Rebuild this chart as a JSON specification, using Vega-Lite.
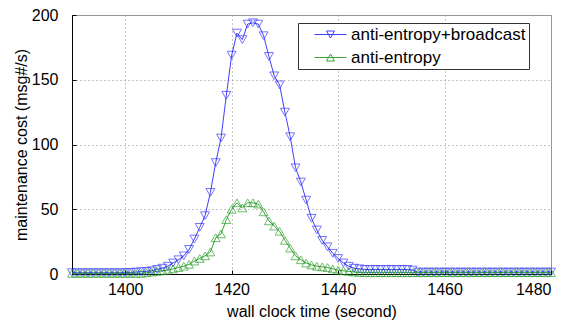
{
  "$schema": "https://vega.github.io/schema/vega-lite/v6.json",
  "width": 479,
  "height": 259,
  "autosize": "none",
  "padding": {"left": 72, "top": 15, "right": 28, "bottom": 48},
  "background": "white",
  "config": {
    "view": {"stroke": "#9a9a9a", "strokeWidth": 1},
    "font": "Liberation Sans"
  },
  "data": {
    "values": [
      {"t": 1390, "anti-entropy+broadcast": 1, "anti-entropy": 0.5},
      {"t": 1391, "anti-entropy+broadcast": 1, "anti-entropy": 0.5},
      {"t": 1392, "anti-entropy+broadcast": 1, "anti-entropy": 0.5},
      {"t": 1393, "anti-entropy+broadcast": 1, "anti-entropy": 0.5},
      {"t": 1394, "anti-entropy+broadcast": 1, "anti-entropy": 0.5},
      {"t": 1395, "anti-entropy+broadcast": 1, "anti-entropy": 0.5},
      {"t": 1396, "anti-entropy+broadcast": 1, "anti-entropy": 0.5},
      {"t": 1397, "anti-entropy+broadcast": 1, "anti-entropy": 0.5},
      {"t": 1398, "anti-entropy+broadcast": 1, "anti-entropy": 0.5},
      {"t": 1399, "anti-entropy+broadcast": 1, "anti-entropy": 0.5},
      {"t": 1400, "anti-entropy+broadcast": 1, "anti-entropy": 0.5},
      {"t": 1401, "anti-entropy+broadcast": 1.2, "anti-entropy": 0.5},
      {"t": 1402, "anti-entropy+broadcast": 1.5, "anti-entropy": 0.5},
      {"t": 1403, "anti-entropy+broadcast": 1.8, "anti-entropy": 0.5},
      {"t": 1404, "anti-entropy+broadcast": 2, "anti-entropy": 1},
      {"t": 1405, "anti-entropy+broadcast": 2.5, "anti-entropy": 1.5},
      {"t": 1406, "anti-entropy+broadcast": 3.5, "anti-entropy": 2},
      {"t": 1407, "anti-entropy+broadcast": 4.5, "anti-entropy": 2.5},
      {"t": 1408, "anti-entropy+broadcast": 6, "anti-entropy": 3},
      {"t": 1409, "anti-entropy+broadcast": 8.5, "anti-entropy": 4},
      {"t": 1410, "anti-entropy+broadcast": 11, "anti-entropy": 5},
      {"t": 1411, "anti-entropy+broadcast": 14, "anti-entropy": 6},
      {"t": 1412, "anti-entropy+broadcast": 19, "anti-entropy": 7.5},
      {"t": 1413, "anti-entropy+broadcast": 27, "anti-entropy": 10},
      {"t": 1414, "anti-entropy+broadcast": 36, "anti-entropy": 12},
      {"t": 1415, "anti-entropy+broadcast": 45, "anti-entropy": 14},
      {"t": 1416, "anti-entropy+broadcast": 63, "anti-entropy": 17},
      {"t": 1417, "anti-entropy+broadcast": 86, "anti-entropy": 28},
      {"t": 1418, "anti-entropy+broadcast": 105, "anti-entropy": 31},
      {"t": 1419, "anti-entropy+broadcast": 138, "anti-entropy": 42},
      {"t": 1420, "anti-entropy+broadcast": 169, "anti-entropy": 50},
      {"t": 1421, "anti-entropy+broadcast": 186, "anti-entropy": 55},
      {"t": 1422, "anti-entropy+broadcast": 181, "anti-entropy": 51},
      {"t": 1423, "anti-entropy+broadcast": 193, "anti-entropy": 55},
      {"t": 1424, "anti-entropy+broadcast": 194, "anti-entropy": 55},
      {"t": 1425, "anti-entropy+broadcast": 193, "anti-entropy": 54},
      {"t": 1426, "anti-entropy+broadcast": 184, "anti-entropy": 48},
      {"t": 1427, "anti-entropy+broadcast": 168, "anti-entropy": 41},
      {"t": 1428, "anti-entropy+broadcast": 153, "anti-entropy": 37},
      {"t": 1429, "anti-entropy+broadcast": 146, "anti-entropy": 33},
      {"t": 1430, "anti-entropy+broadcast": 125, "anti-entropy": 26},
      {"t": 1431, "anti-entropy+broadcast": 106, "anti-entropy": 20},
      {"t": 1432, "anti-entropy+broadcast": 82, "anti-entropy": 14},
      {"t": 1433, "anti-entropy+broadcast": 71, "anti-entropy": 11},
      {"t": 1434, "anti-entropy+broadcast": 57, "anti-entropy": 8.5},
      {"t": 1435, "anti-entropy+broadcast": 43, "anti-entropy": 7},
      {"t": 1436, "anti-entropy+broadcast": 34, "anti-entropy": 6},
      {"t": 1437, "anti-entropy+broadcast": 26, "anti-entropy": 5.5},
      {"t": 1438, "anti-entropy+broadcast": 21, "anti-entropy": 5},
      {"t": 1439, "anti-entropy+broadcast": 16, "anti-entropy": 4},
      {"t": 1440, "anti-entropy+broadcast": 12, "anti-entropy": 3},
      {"t": 1441, "anti-entropy+broadcast": 8.5, "anti-entropy": 2.5},
      {"t": 1442, "anti-entropy+broadcast": 6, "anti-entropy": 2},
      {"t": 1443, "anti-entropy+broadcast": 4.5, "anti-entropy": 1.5},
      {"t": 1444, "anti-entropy+broadcast": 4, "anti-entropy": 1.2},
      {"t": 1445, "anti-entropy+broadcast": 3.5, "anti-entropy": 1},
      {"t": 1446, "anti-entropy+broadcast": 3.5, "anti-entropy": 1},
      {"t": 1447, "anti-entropy+broadcast": 3.5, "anti-entropy": 1},
      {"t": 1448, "anti-entropy+broadcast": 3.5, "anti-entropy": 1},
      {"t": 1449, "anti-entropy+broadcast": 3.5, "anti-entropy": 1},
      {"t": 1450, "anti-entropy+broadcast": 3.5, "anti-entropy": 1},
      {"t": 1451, "anti-entropy+broadcast": 3.5, "anti-entropy": 1},
      {"t": 1452, "anti-entropy+broadcast": 3.5, "anti-entropy": 1},
      {"t": 1453, "anti-entropy+broadcast": 3.5, "anti-entropy": 1},
      {"t": 1454, "anti-entropy+broadcast": 3, "anti-entropy": 1},
      {"t": 1455, "anti-entropy+broadcast": 1.5, "anti-entropy": 1},
      {"t": 1456, "anti-entropy+broadcast": 1.5, "anti-entropy": 1},
      {"t": 1457, "anti-entropy+broadcast": 1.5, "anti-entropy": 1},
      {"t": 1458, "anti-entropy+broadcast": 1.5, "anti-entropy": 1},
      {"t": 1459, "anti-entropy+broadcast": 1.5, "anti-entropy": 1},
      {"t": 1460, "anti-entropy+broadcast": 1.5, "anti-entropy": 1},
      {"t": 1461, "anti-entropy+broadcast": 1.5, "anti-entropy": 1},
      {"t": 1462, "anti-entropy+broadcast": 1.5, "anti-entropy": 1},
      {"t": 1463, "anti-entropy+broadcast": 1.5, "anti-entropy": 1},
      {"t": 1464, "anti-entropy+broadcast": 1.5, "anti-entropy": 1},
      {"t": 1465, "anti-entropy+broadcast": 1.5, "anti-entropy": 1},
      {"t": 1466, "anti-entropy+broadcast": 1.5, "anti-entropy": 1},
      {"t": 1467, "anti-entropy+broadcast": 1.5, "anti-entropy": 1},
      {"t": 1468, "anti-entropy+broadcast": 1.5, "anti-entropy": 1},
      {"t": 1469, "anti-entropy+broadcast": 1.5, "anti-entropy": 1},
      {"t": 1470, "anti-entropy+broadcast": 1.5, "anti-entropy": 1},
      {"t": 1471, "anti-entropy+broadcast": 1.5, "anti-entropy": 1},
      {"t": 1472, "anti-entropy+broadcast": 1.5, "anti-entropy": 1},
      {"t": 1473, "anti-entropy+broadcast": 1.5, "anti-entropy": 1},
      {"t": 1474, "anti-entropy+broadcast": 1.5, "anti-entropy": 1},
      {"t": 1475, "anti-entropy+broadcast": 1.5, "anti-entropy": 1},
      {"t": 1476, "anti-entropy+broadcast": 1.5, "anti-entropy": 1},
      {"t": 1477, "anti-entropy+broadcast": 1.5, "anti-entropy": 1},
      {"t": 1478, "anti-entropy+broadcast": 1.5, "anti-entropy": 1},
      {"t": 1479, "anti-entropy+broadcast": 1.5, "anti-entropy": 1},
      {"t": 1480, "anti-entropy+broadcast": 1.5, "anti-entropy": 1}
    ]
  },
  "transform": [
    {"fold": ["anti-entropy+broadcast", "anti-entropy"], "as": ["series", "cost"]}
  ],
  "encoding": {
    "x": {
      "field": "t", "type": "quantitative",
      "scale": {"domain": [1390, 1480], "nice": false, "zero": false},
      "axis": {
        "values": [1400, 1420, 1440, 1460, 1480],
        "format": "d",
        "title": "wall clock time (second)",
        "titleFont": "Liberation Sans", "titleFontSize": 16, "titleFontWeight": "normal", "titleColor": "black",
        "titlePadding": 6,
        "labelFont": "Liberation Sans", "labelFontSize": 16, "labelColor": "black",
        "labelPadding": 11, "tickSize": -4, "tickColor": "black",
        "domainColor": "black",
        "grid": true, "gridDash": [1, 3], "gridColor": "#8a8a8a", "gridWidth": 1
      }
    },
    "y": {
      "field": "cost", "type": "quantitative",
      "scale": {"domain": [0, 200], "nice": false},
      "axis": {
        "values": [0, 50, 100, 150, 200],
        "format": "d",
        "title": "maintenance cost (msg#/s)",
        "titleFont": "Liberation Sans", "titleFontSize": 16, "titleFontWeight": "normal", "titleColor": "black",
        "titlePadding": 2,
        "labelFont": "Liberation Sans", "labelFontSize": 16, "labelColor": "black",
        "labelPadding": 18, "tickSize": -4, "tickColor": "black",
        "domainColor": "black",
        "grid": true, "gridDash": [1, 3], "gridColor": "#8a8a8a", "gridWidth": 1
      }
    },
    "color": {
      "field": "series", "type": "nominal",
      "scale": {"domain": ["anti-entropy+broadcast", "anti-entropy"], "range": ["#2a2aff", "#219a21"]},
      "legend": {
        "orient": "none", "legendX": 226, "legendY": 8,
        "title": null,
        "strokeColor": "#333333", "fillColor": "white",
        "padding": 3,
        "rowPadding": 5,
        "labelFont": "Liberation Sans", "labelFontSize": 17, "labelColor": "black",
        "labelLimit": 400,
        "labelExpr": "datum.label + '\u00a0\u00a0\u00a0\u00a0\u00a0'",
        "symbolSize": 100,
        "symbolOffset": 21,
        "labelOffset": 12,
        "symbolStrokeWidth": 1,
        "symbolFillColor": "transparent"
      }
    }
  },
  "layer": [
    {
      "mark": {"type": "line", "strokeWidth": 1, "opacity": 0.9}
    },
    {
      "mark": {"type": "point", "filled": false, "size": 0, "strokeWidth": 1},
      "encoding": {
        "shape": {
          "field": "series", "type": "nominal",
          "scale": {
            "domain": ["anti-entropy+broadcast", "anti-entropy"],
            "range": ["M-3.2,0H3.2M-0.8,-0.7L0.8,-0.7L0,0.7Z", "M-3.2,0H3.2M0,-0.7L0.8,0.7L-0.8,0.7Z"]
          },
          "legend": {
            "orient": "none", "legendX": 226, "legendY": 8,
            "title": null,
            "strokeColor": "#333333", "fillColor": "white",
            "padding": 3,
            "rowPadding": 5,
            "labelFont": "Liberation Sans", "labelFontSize": 17, "labelColor": "black",
            "labelLimit": 400,
            "labelExpr": "datum.label + '\u00a0\u00a0\u00a0\u00a0\u00a0'",
            "symbolSize": 100,
            "symbolOffset": 21,
            "labelOffset": 12,
            "symbolStrokeWidth": 1,
            "symbolFillColor": "transparent"
          }
        }
      }
    },
    {
      "transform": [{"filter": "datum.series === 'anti-entropy+broadcast'"}],
      "mark": {"type": "point", "filled": false, "size": 80, "strokeWidth": 1, "opacity": 0.65, "shape": "triangle-down", "stroke": "#2a2aff"},
      "encoding": {"color": null}
    },
    {
      "transform": [{"filter": "datum.series === 'anti-entropy'"}],
      "mark": {"type": "point", "filled": false, "size": 80, "strokeWidth": 1, "opacity": 0.65, "shape": "triangle-up", "stroke": "#219a21"},
      "encoding": {"color": null}
    }
  ]
}
